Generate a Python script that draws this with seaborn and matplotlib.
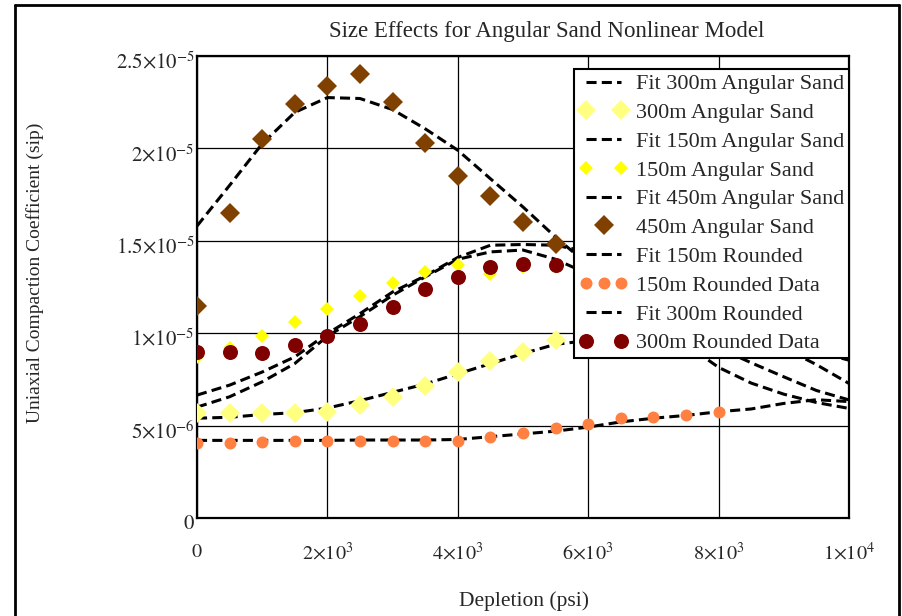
import numpy as np
import pandas as pd
import matplotlib
matplotlib.use("Agg")
import matplotlib.pyplot as plt
import matplotlib.transforms as mtransforms
import seaborn as sns
from matplotlib.legend_handler import HandlerLine2D
from matplotlib.lines import Line2D

# ---------------- data ----------------
depletion_data = [0, 500, 1000, 1500, 2000, 2500, 3000, 3500, 4000, 4500, 5000, 5500]
depletion_round150 = [0, 500, 1000, 1500, 2000, 2500, 3000, 3500, 4000, 4500,
                      5000, 5500, 6000, 6500, 7000, 7500, 8000]
depletion_fit = [0, 500, 1000, 1500, 2000, 2500, 3000, 3500, 4000, 4500, 5000,
                 5500, 6000, 6500, 7000, 7500, 8000, 8500, 9000, 9500, 10000]

# measured values (units of 1e-6)
ang300 = [5.66, 5.66, 5.69, 5.66, 5.75, 6.14, 6.56, 7.14, 7.91, 8.49, 8.99, 9.62]
ang150 = [8.7, 9.2, 9.84, 10.6, 11.3, 12.0, 12.7, 13.3, 13.7, 13.2, 13.6, 13.6]
ang450 = [11.45, 16.5, 20.5, 22.4, 23.4, 24.0, 22.5, 20.3, 18.5, 17.4, 16.0, 14.85]
round150 = [4.04, 4.07, 4.09, 4.18, 4.18, 4.18, 4.18, 4.18, 4.18, 4.39, 4.61, 4.88,
            5.08, 5.39, 5.48, 5.57, 5.75]
round300 = [8.99, 9.0, 8.95, 9.35, 9.84, 10.5, 11.4, 12.4, 13.05, 13.6, 13.77, 13.68]

# fitted curves (units of 1e-6)
fit_ang300 = [5.4, 5.45, 5.6, 5.7, 5.95, 6.35, 6.8, 7.25, 7.8, 8.35, 8.9, 9.4, 9.6,
              9.85, 10.0, 10.0, 9.9, 9.7, 9.4, 9.0, 8.54]
fit_ang150 = [6.65, 7.19, 7.9, 8.72, 9.98, 11.06, 12.23, 13.1, 14.1, 14.76, 14.8,
              14.76, 14.4, 13.6, 12.7, 11.7, 10.8, 9.95, 9.2, 8.3, 7.28]
fit_ang450 = [15.8, 18.0, 20.25, 21.95, 22.75, 22.7, 22.1, 21.06, 19.9, 18.36, 16.83,
              15.2, 13.7, 12.2, 10.8, 9.4, 8.15, 7.3, 6.7, 6.25, 5.93]
fit_round150 = [4.2, 4.2, 4.2, 4.2, 4.2, 4.22, 4.22, 4.22, 4.25, 4.4, 4.55, 4.7, 4.92,
                5.2, 5.4, 5.55, 5.75, 5.9, 6.2, 6.4, 6.3]
fit_round300 = [6.0, 6.56, 7.37, 8.36, 9.84, 10.9, 12.05, 13.05, 14.0, 14.4, 14.5, 14.0,
                13.2, 12.2, 11.2, 10.2, 9.2, 8.4, 7.64, 6.9, 6.39]

labels = ["Fit 300m Angular Sand", "300m Angular Sand", "Fit 150m Angular Sand",
          "150m Angular Sand", "Fit 450m Angular Sand", "450m Angular Sand",
          "Fit 150m Rounded", "150m Rounded Data", "Fit 300m Rounded",
          "300m Rounded Data"]

xticks = [0, 2000, 4000, 6000, 8000, 10000]
xtick_labels = [r"$0$", r"$2{\times}10^{3}$", r"$4{\times}10^{3}$", r"$6{\times}10^{3}$",
                r"$8{\times}10^{3}$", r"$1{\times}10^{4}$"]
yticks = [0, 5e-6, 1e-5, 1.5e-5, 2e-5, 2.5e-5]
ytick_labels = [r"$0$", r"$5{\times}10^{-6}$", r"$1{\times}10^{-5}$", r"$1.5{\times}10^{-5}$",
                r"$2{\times}10^{-5}$", r"$2.5{\times}10^{-5}$"]

title = "Size Effects for Angular Sand Nonlinear Model"
xlabel = "Depletion (psi)"
ylabel = "Uniaxial Compaction Coefficient (sip)"

# ---------------- style ----------------
sns.set_theme(style="white")
plt.rcParams["font.family"] = ["Liberation Serif", "DejaVu Serif"]
plt.rcParams["mathtext.fontset"] = "stix"

W, H = 903, 616
fig = plt.figure(figsize=(W / 100, H / 100), dpi=100)
ax = fig.add_axes([197 / W, 1 - 518 / H, (849 - 197) / W, (518 - 56) / H])

def s(v):
    return np.array(v) * 1e-6

fit_kw = dict(color="black", linewidth=2.2, dashes=(3.3, 1.7), zorder=3)

def fitline(y, lab):
    sns.lineplot(x=depletion_fit, y=s(y), ax=ax, label=lab, sort=False,
                 estimator=None, **fit_kw)

def points(x, y, lab, marker, ms, color):
    sns.lineplot(x=x, y=s(y), ax=ax, label=lab, sort=False, estimator=None,
                 linestyle="none", marker=marker, markersize=ms,
                 markerfacecolor=color, markeredgecolor=color, markeredgewidth=0,
                 color=color, zorder=4)

fitline(fit_ang300, labels[0])
points(depletion_data, ang300, labels[1], "D", 10.0, "#FFFF80")
fitline(fit_ang150, labels[2])
points(depletion_data, ang150, labels[3], "D", 6.8, "#FFFF00")
fitline(fit_ang450, labels[4])
points(depletion_data, ang450, labels[5], "D", 10.5, "#804000")
fitline(fit_round150, labels[6])
points(depletion_round150, round150, labels[7], "o", 8.6, "#FF8040")
fitline(fit_round300, labels[8])
points(depletion_data, round300, labels[9], "o", 10.8, "#800000")

ax.set_xlim(0, 10000)
ax.set_ylim(0, 2.5e-5)
ax.set_xticks(xticks)
ax.set_xticklabels(xtick_labels, fontsize=14.5)
ax.set_yticks(yticks)
ax.set_yticklabels(ytick_labels, fontsize=15)
ax.tick_params(axis="both", length=0)
ax.tick_params(axis="x", pad=18)
ax.tick_params(axis="y", pad=1.5)
shift = mtransforms.ScaledTranslation(0, -3 / 72, fig.dpi_scale_trans)
for lab in ax.get_yticklabels():
    lab.set_transform(lab.get_transform() + shift)
ax.grid(True, color="black", linewidth=0.9)
ax.set_axisbelow(True)
for sp in ax.spines.values():
    sp.set_color("black")
    sp.set_linewidth(1.6)
ax.set_xlabel("")
ax.set_ylabel("")

# legend
handles, labs = ax.get_legend_handles_labels()
npts = {labels[1]: 2, labels[3]: 2, labels[5]: 1, labels[7]: 3, labels[9]: 2}
hmap = {h: HandlerLine2D(numpoints=npts.get(l, 2)) for h, l in zip(handles, labs)}
leg = ax.legend(handles, labs, handler_map=hmap, loc="upper right",
                bbox_to_anchor=(1.0, 0.972), borderaxespad=0, fontsize=16,
                frameon=True, fancybox=False, framealpha=1, edgecolor="black",
                handlelength=2.2, handletextpad=0.35, labelspacing=0.37,
                borderpad=0.22)
leg.get_frame().set_linewidth(1.5)
leg.set_zorder(10)

fig.text(547 / W, 1 - 31 / H, title, ha="center", va="center", fontsize=16.5)
fig.text(524 / W, 1 - 601 / H, xlabel, ha="center", va="center", fontsize=15.5)
fig.text(35 / W, 1 - 273 / H, ylabel, ha="center", va="center", rotation=90,
         fontsize=14)

# outer frame
for (x0, y0, x1, y1) in [(15, 5, 15, 616), (15, 5, 899, 5), (899, 5, 899, 616)]:
    fig.add_artist(Line2D([x0 / W, x1 / W], [1 - y0 / H, 1 - y1 / H],
                          transform=fig.transFigure, color="black", linewidth=2))

fig.savefig("out.png", dpi=100)
